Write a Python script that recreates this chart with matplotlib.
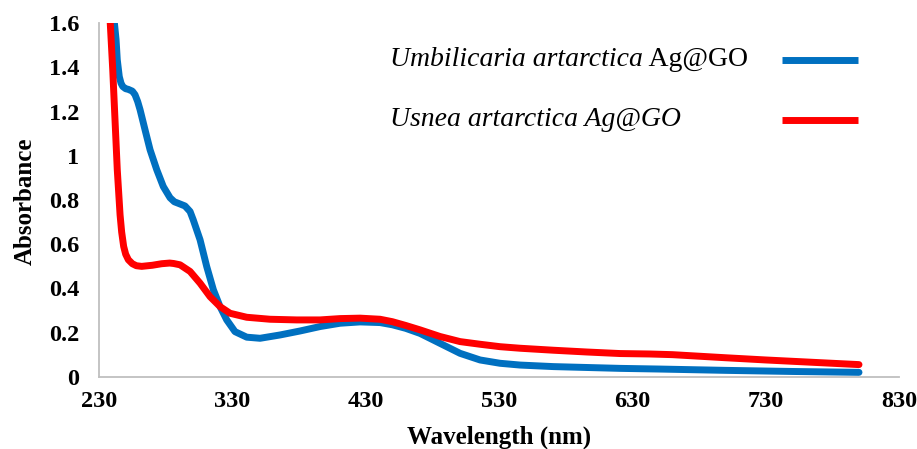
import matplotlib
matplotlib.use("Agg")
import matplotlib.pyplot as plt
from matplotlib.lines import Line2D

# ---- data ----
blue_wl = [239.8, 241.3, 242.8, 243.7, 245.2, 246.5, 247.8, 250, 252, 255, 257, 259,
           260.8, 264.5, 268.3, 273.3, 278.2, 283.3, 286.5, 289.5, 294.5, 298.3,
           300.7, 305.8, 310.8, 315.8, 320.8, 325.8, 332, 340.8, 350.8, 365.8,
           380.8, 395.8, 410.8, 425.8, 440.8, 450, 460, 470.8, 485.8, 500.8,
           515.8, 530.8, 545.8, 570.8, 595.8, 620.8, 650, 700, 750, 800]
blue_abs = [1.70, 1.615, 1.525, 1.434, 1.358, 1.328, 1.313, 1.303, 1.30, 1.292, 1.276,
            1.245, 1.208, 1.118, 1.027, 0.937, 0.861, 0.81, 0.792, 0.785, 0.773,
            0.748, 0.71, 0.62, 0.499, 0.394, 0.318, 0.258, 0.205, 0.18, 0.175,
            0.19, 0.208, 0.228, 0.243, 0.249, 0.246, 0.236, 0.22, 0.197, 0.152,
            0.107, 0.077, 0.062, 0.054, 0.047, 0.043, 0.039, 0.036, 0.030, 0.025,
            0.021]

red_wl = [237.5, 238.3, 240.3, 242, 243.7, 245.8, 247, 248.5, 250, 252, 255, 258,
          262, 270, 277, 283, 286, 290.8, 298.3, 305.8, 313.3, 320.8, 328.3,
          340.8, 358.3, 378.3, 395.8, 410.8, 425.8, 440.8, 450, 460, 470.8,
          485.8, 500.8, 515.8, 530.8, 545.8, 570.8, 595.8, 620.8, 643, 660, 680,
          700, 730, 760, 800]
red_abs = [1.70, 1.615, 1.389, 1.163, 0.937, 0.733, 0.655, 0.59, 0.555, 0.53, 0.512,
           0.503, 0.50, 0.505, 0.512, 0.515, 0.513, 0.507, 0.477, 0.424, 0.363,
           0.318, 0.288, 0.27, 0.261, 0.258, 0.258, 0.264, 0.266, 0.261, 0.25,
           0.233, 0.213, 0.183, 0.16, 0.148, 0.137, 0.13, 0.121, 0.113, 0.106,
           0.104, 0.101, 0.094, 0.087, 0.077, 0.068, 0.056]

x_ticks = [230, 330, 430, 530, 630, 730, 830]
y_ticks = [0, 0.2, 0.4, 0.6, 0.8, 1, 1.2, 1.4, 1.6]
y_tick_labels = ["0", "0.2", "0.4", "0.6", "0.8", "1", "1.2", "1.4", "1.6"]

label_blue_it = "Umbilicaria artarctica"
label_blue_rm = " Ag@GO"
label_red = "Usnea artarctica Ag@GO"
x_title = "Wavelength (nm)"
y_title = "Absorbance"

BLUE = "#0070C0"
RED = "#FF0000"
SERIF = ["Liberation Serif", "DejaVu Serif"]

plt.rcParams["font.family"] = SERIF

W, H = 917, 449
fig = plt.figure(figsize=(W / 100, H / 100), dpi=100)
ax = fig.add_axes([99 / W, 1 - 377 / H, 800 / W, 354 / H])

LW = 5
ax.plot(blue_wl, blue_abs, color=BLUE, lw=LW, solid_capstyle="round", solid_joinstyle="round")
ax.plot(red_wl, red_abs, color=RED, lw=LW, solid_capstyle="round", solid_joinstyle="round")

ax.set_xlim(230, 830)
ax.set_ylim(0, 1.6)
ax.set_xticks(x_ticks)
ax.set_xticklabels([str(v) for v in x_ticks], fontsize=17.5, fontweight="bold")
ax.set_yticks(y_ticks)
ax.set_yticklabels(y_tick_labels, fontsize=17.5, fontweight="bold")
ax.tick_params(axis="both", length=0)
ax.tick_params(axis="y", pad=14)
ax.tick_params(axis="x", pad=10)

for s in ["top", "right"]:
    ax.spines[s].set_visible(False)
for s in ["left", "bottom"]:
    ax.spines[s].set_color("#BFBFBF")
    ax.spines[s].set_linewidth(1.3)

fig.text(499 / W, 1 - 437 / H, x_title, fontsize=18, fontweight="bold",
         ha="center", va="center")
fig.text(25 / W, 1 - 201 / H, y_title, fontsize=18, fontweight="bold",
         ha="center", va="center", rotation=90)

# ---- manual legend (text left, line right) ----
ly1 = (377 - 60) / 354
ly2 = (377 - 120) / 354
lx0 = (390 - 99) / 800
t1 = ax.text(lx0, ly1, label_blue_it, transform=ax.transAxes, fontsize=20,
             style="italic", va="center", ha="left")
fig.canvas.draw()
bb = t1.get_window_extent(renderer=fig.canvas.get_renderer())
x_end = ax.transAxes.inverted().transform((bb.x1, bb.y0))[0]
ax.text(x_end, ly1, label_blue_rm, transform=ax.transAxes, fontsize=20,
        va="center", ha="left")
ax.text(lx0, ly2, label_red, transform=ax.transAxes, fontsize=20,
        style="italic", va="center", ha="left")
hx0 = (782 - 99) / 800
hx1 = (858 - 99) / 800
ax.add_line(Line2D([hx0, hx1], [ly1, ly1], transform=ax.transAxes,
                   color=BLUE, lw=LW, solid_capstyle="butt"))
ax.add_line(Line2D([hx0, hx1], [ly2, ly2], transform=ax.transAxes,
                   color=RED, lw=LW, solid_capstyle="butt"))

fig.savefig("out.png", dpi=100)
